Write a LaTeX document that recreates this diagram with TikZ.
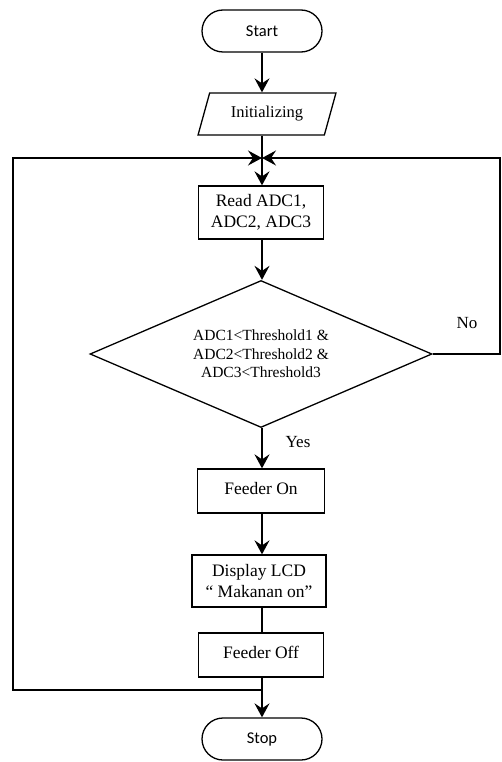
\documentclass[tikz,border=0pt]{standalone}
\usepackage{fontspec}
\setmainfont{Liberation Serif}
\newfontfamily\termfont{Carlito}
\usetikzlibrary{shapes.geometric,arrows.meta}
\begin{document}
\begin{tikzpicture}[x=1pt,y=-1pt,
  line width=1.3pt,
  tip/.style={-{Stealth[length=14pt,width=15pt,inset=5pt]}},
  term/.style={draw,rectangle,rounded corners=21pt,minimum width=120pt,minimum height=42pt,
    font=\termfont\fontsize{16.5}{19}\selectfont,inner sep=0pt},
  proc/.style={draw,rectangle,minimum width=125pt,minimum height=44pt,align=center,
    font=\fontsize{17.5}{21}\selectfont,inner sep=0pt},
  io/.style={draw,trapezium,trapezium left angle=64,trapezium right angle=116,
    trapezium stretches=true,minimum width=139pt,minimum height=42pt,
    font=\fontsize{16.5}{20}\selectfont,inner sep=0pt},
  dec/.style={draw,diamond,aspect=2.33,minimum width=342pt,minimum height=147pt,
    align=center,font=\fontsize{15.5}{18.5}\selectfont,inner sep=0pt},
  lbl/.style={font=\fontsize{17}{20}\selectfont}]
\useasboundingbox (0,0) rectangle (501,762);

\node[term] (start) at (262,31) {Start};
\node[io] (init) at (267,114) {Initializing};
\coordinate (merge) at (262,158);
\node[proc,minimum height=53pt] (read) at (261,212.5) {Read ADC1,\\ADC2, ADC3};
\node[dec] (cond) at (261,354) {ADC1<Threshold1 \&\\ADC2<Threshold2 \&\\ADC3<Threshold3};
\node[proc,minimum width=127pt] (fon) at (261,491) {\raisebox{5pt}{Feeder On}};
\node[proc,minimum width=134pt,minimum height=52pt] (lcd) at (259,581) {Display LCD\\`` Makanan on''};
\node[proc] (foff) at (261,655) {\raisebox{6pt}{Feeder Off}};
\node[term] (stop) at (262,739) {Stop};
\coordinate (loopj) at (262,690);
\coordinate (lcorner1) at (13,690);
\coordinate (lcorner2) at (13,158);
\coordinate (rcorner1) at (500,354);
\coordinate (rcorner2) at (500,158);

\draw[tip] (start.south -| merge) -- (init.north -| merge);
\draw (init.south -| merge) -- (merge);
\draw[tip] (merge) -- (read.north -| merge);
\draw[tip] (read.south -| merge) -- (cond.north -| merge);
\draw[tip] (cond.south -| merge) -- (fon.north -| merge);
\draw[tip] (fon.south -| merge) -- (lcd.north -| merge);
\draw (lcd.south -| merge) -- (foff.north -| merge);
\draw[tip] (foff.south -| merge) -- (stop.north -| merge);
\draw[tip] (loopj) -- (lcorner1) -- (lcorner2) -- (merge);
\draw[tip] (cond.east) -- (rcorner1) -- (rcorner2) -- (merge);

\node[lbl] (no) at (467,323) {No};
\node[lbl] (yes) at (298,442) {Yes};
\end{tikzpicture}
\end{document}
